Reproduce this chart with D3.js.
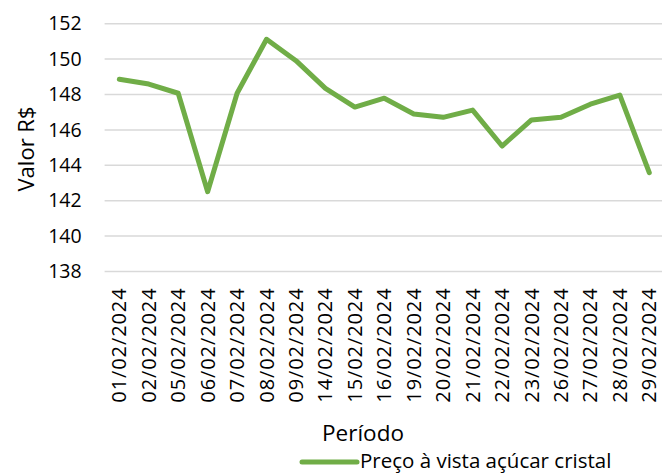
<!DOCTYPE html>
<html>
<head>
<meta charset="utf-8">
<script src="https://cdn.jsdelivr.net/npm/d3@7"></script>
<style>
  body { margin: 0; background: #fff; }
  text { font-family: "Open Sans", sans-serif; fill: #000; }
</style>
</head>
<body>
<div id="graphic"></div>
<script>
// dados
var datas = ["01/02/2024", "02/02/2024", "05/02/2024", "06/02/2024", "07/02/2024",
  "08/02/2024", "09/02/2024", "14/02/2024", "15/02/2024", "16/02/2024",
  "19/02/2024", "20/02/2024", "21/02/2024", "22/02/2024", "23/02/2024",
  "26/02/2024", "27/02/2024", "28/02/2024", "29/02/2024"];
var precos = [148.86, 148.59, 148.07, 142.51, 148.07, 151.12, 149.91, 148.35, 147.29,
  147.79, 146.90, 146.71, 147.12, 145.09, 146.56, 146.71, 147.45, 147.97, 143.58];
var yTicks = [138, 140, 142, 144, 146, 148, 150, 152];
var serieNome = "Preço à vista açúcar cristal";

var W = 662, H = 473;
var margin = {top: 23.7, right: -2, bottom: 201.5, left: 104.6};
var width = W - margin.left - margin.right,
    height = H - margin.top - margin.bottom;

var svg = d3.select("#graphic").append("svg")
  .attr("width", W)
  .attr("height", H);

var g = svg.append("g")
  .attr("transform", "translate(" + margin.left + "," + margin.top + ")");

var x = d3.scaleBand()
  .domain(datas)
  .range([0, width]);

var y = d3.scaleLinear()
  .domain([138, 152])
  .range([height, 0]);

// linhas de grade
g.selectAll(".grid")
  .data(yTicks)
  .enter().append("line")
  .attr("x1", 0)
  .attr("x2", width)
  .attr("y1", function(d) { return y(d); })
  .attr("y2", function(d) { return y(d); })
  .attr("stroke", "#d9d9d9")
  .attr("stroke-width", 1.5);

// eixo y
var yAxis = g.append("g")
  .call(d3.axisLeft(y).tickValues(yTicks).tickSize(0).tickPadding(23));
yAxis.select(".domain").remove();
yAxis.selectAll("text")
  .style("font-family", "'Open Sans', sans-serif")
  .style("font-size", "19.5px")
  .attr("fill", "#000");

// eixo x
var xAxis = g.append("g")
  .attr("transform", "translate(0," + height + ")")
  .call(d3.axisBottom(x).tickSize(0));
xAxis.select(".domain").remove();
xAxis.selectAll("text")
  .style("font-family", "'Open Sans', sans-serif")
  .style("font-size", "20px")
  .style("letter-spacing", "0.9px")
  .attr("fill", "#000")
  .attr("text-anchor", "end")
  .attr("transform", "rotate(-90)")
  .attr("x", -16)
  .attr("y", 0)
  .attr("dy", "0.35em");

// linha
var line = d3.line()
  .x(function(d, i) { return x(datas[i]) + x.bandwidth() / 2; })
  .y(function(d) { return y(d); });

g.append("path")
  .datum(precos)
  .attr("fill", "none")
  .attr("stroke", "#70ad47")
  .attr("stroke-width", 5)
  .attr("stroke-linejoin", "round")
  .attr("stroke-linecap", "round")
  .attr("d", line);

// títulos
svg.append("text")
  .attr("transform", "translate(34,149) rotate(-90)")
  .attr("text-anchor", "middle")
  .style("font-size", "22px")
  .text("Valor R$");

svg.append("text")
  .attr("x", 363)
  .attr("y", 441)
  .attr("text-anchor", "middle")
  .style("font-size", "22.5px")
  .text("Período");

// legenda
svg.append("line")
  .attr("x1", 302).attr("x2", 357)
  .attr("y1", 462).attr("y2", 462)
  .attr("stroke", "#70ad47")
  .attr("stroke-width", 5)
  .attr("stroke-linecap", "round");

svg.append("text")
  .attr("x", 360)
  .attr("y", 468)
  .style("font-size", "20.5px")
  .text(serieNome);
</script>
</body>
</html>
